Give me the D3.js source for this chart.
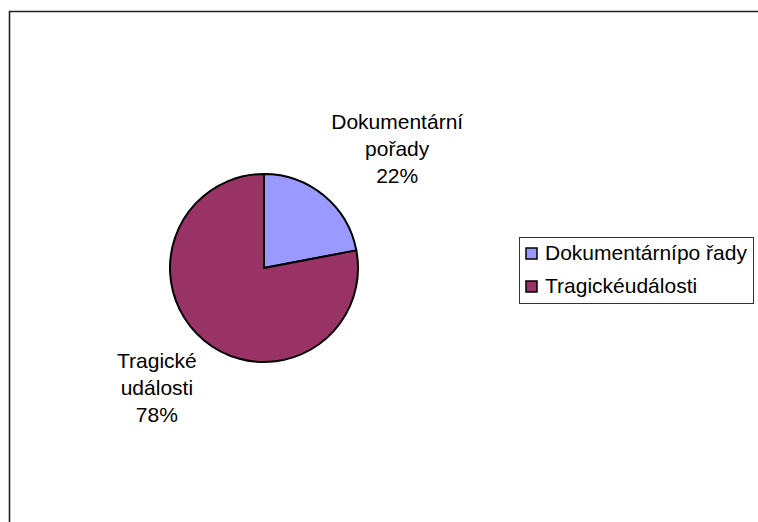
<!DOCTYPE html>
<html>
<head>
<meta charset="utf-8">
<script src="https://cdn.jsdelivr.net/npm/d3@7"></script>
<style>
  body { margin: 0; background: #fff; }
  svg text { font-family: "Liberation Sans", Arial, sans-serif; fill: #000; }
</style>
</head>
<body>
<svg id="chart" width="758" height="522"></svg>
<script>
// data
const categories = ['Dokumentární pořady', 'Tragické události']
const values = [22, 78]
const labelLines = [['Dokumentární', 'pořady'], ['Tragické', 'události']]
const legendLabels = ['Dokumentárnípo řady', 'Tragickéudálosti']
const colors = ['#9999FF', '#993366']

const svg = d3.select('#chart')
const fontSize = 21
const lineH = 27

// outer frame (only top and left edges are visible)
svg.append('path')
  .attr('d', 'M9.5,522V11.5H758')
  .attr('fill', 'none')
  .attr('stroke', '#222')
  .attr('stroke-width', 1.6)

const cx = 264
const cy = 268
const radius = 94

const pie = d3.pie().sort(null).value(d => d)
const arcs = pie(values)
const arc = d3.arc().innerRadius(0).outerRadius(radius)

const g = svg.append('g').attr('transform', `translate(${cx},${cy})`)

g.selectAll('path.slice')
  .data(arcs)
  .enter()
  .append('path')
  .attr('class', 'slice')
  .attr('d', arc)
  .attr('fill', (d, i) => colors[i])
  .attr('stroke', '#000')
  .attr('stroke-width', 2)
  .attr('stroke-linejoin', 'round')

// data labels: place the text block just outside the pie along the slice mid-angle
const total = d3.sum(values)
const labels = g.selectAll('g.label')
  .data(arcs)
  .enter()
  .append('g')
  .attr('class', 'label')

labels.each(function (d, i) {
  const sel = d3.select(this)
  const lines = labelLines[i].concat([Math.round(d.value / total * 100) + '%'])
  const t = sel.append('text')
    .attr('text-anchor', 'middle')
    .style('font-size', fontSize + 'px')
  lines.forEach((l, k) => {
    t.append('tspan').attr('x', 0).attr('y', k * lineH).text(l)
  })
  const bb = this.getBBox()
  const mid = (d.startAngle + d.endAngle) / 2
  const r = radius + 11.5
  const px = r * Math.sin(mid)
  const py = -r * Math.cos(mid)
  const sx = Math.sign(px) * bb.width / 2
  const sy = Math.sign(py) * bb.height / 2
  const tx = px + sx - (bb.x + bb.width / 2)
  const ty = py + sy - (bb.y + bb.height / 2)
  sel.attr('transform', `translate(${tx},${ty})`)
})

// legend
const legend = svg.append('g').attr('transform', 'translate(519,237)')
legend.append('rect')
  .attr('x', 0.5)
  .attr('y', 0.5)
  .attr('width', 234)
  .attr('height', 66)
  .attr('fill', '#fff')
  .attr('stroke', '#333')
  .attr('stroke-width', 1)

const items = legend.selectAll('g.item')
  .data(legendLabels)
  .enter()
  .append('g')
  .attr('class', 'item')
  .attr('transform', (d, i) => `translate(0,${i * 33})`)

items.append('rect')
  .attr('x', 7)
  .attr('y', 11)
  .attr('width', 11)
  .attr('height', 11)
  .attr('fill', (d, i) => colors[i])
  .attr('stroke', '#000')
  .attr('stroke-width', 1.5)

items.append('text')
  .attr('x', 26)
  .attr('y', 23)
  .style('font-size', fontSize + 'px')
  .text(d => d)
</script>
</body>
</html>
